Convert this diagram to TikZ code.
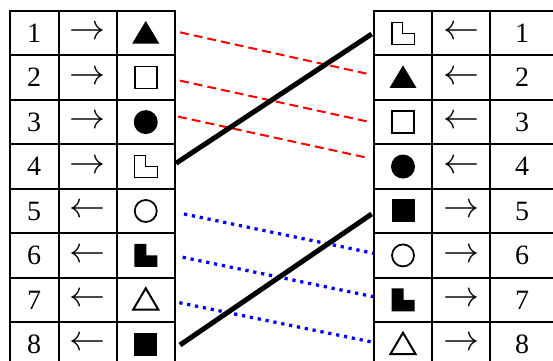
\documentclass[tikz,border=0pt]{standalone}
\usepackage{fontspec}
\setmainfont{Liberation Serif}
\usetikzlibrary{positioning}

\tikzset{
  filledtri/.pic={\fill (-13.5,10.3) -- (13.5,10.3) -- (0,-12.3) -- cycle;},
  hollowtri/.pic={\draw[line width=0.8pt] (-12.6,9.8) -- (12.6,9.8) -- (0,-11.6) -- cycle;},
  filledsq/.pic={\fill (-11.5,-11.5) rectangle (11.5,11.5);},
  hollowsq/.pic={\draw[line width=0.6pt] (-11,-11) rectangle (11,11);},
  filleddot/.pic={\fill (0,0) circle (12);},
  hollowdot/.pic={\draw[line width=0.7pt] (0,0) circle (11);},
  filledL/.pic={\fill (-11.5,-11.5) -- (0.5,-11.5) -- (0.5,0) -- (11.5,0) -- (11.5,11.5) -- (-11.5,11.5) -- cycle;},
  hollowL/.pic={\draw[line width=0.5pt] (-11,-11) -- (-0.5,-11) -- (-0.5,0) -- (11.5,0) -- (11.5,11) -- (-11,11) -- cycle;}
}

\begin{document}
\begin{tikzpicture}[
  x=0.4pt, y=-0.4pt,
  every node/.style={font=\fontsize{11.2}{13}\selectfont},
  cell/.style={rectangle, draw, line width=0.8pt, outer sep=0pt, inner sep=0pt, minimum height=17.78pt},
  arrowcell/.style={cell, font=\fontsize{13.5}{15}\selectfont},
  reddash/.style={red, line width=0.8pt, dash pattern=on 3.6pt off 2pt},
  bluedot/.style={blue, line width=1.3pt, dash pattern=on 1.3pt off 1.9pt},
  thickline/.style={line width=2pt}]
\useasboundingbox (0,0) rectangle (553,360);
\clip (0,0) rectangle (553,360);
% the two tables
\foreach \i/\larr/\rarr in {1/\rightarrow/\leftarrow, 2/\rightarrow/\leftarrow,
    3/\rightarrow/\leftarrow, 4/\rightarrow/\leftarrow, 5/\leftarrow/\rightarrow,
    6/\leftarrow/\rightarrow, 7/\leftarrow/\rightarrow, 8/\leftarrow/\rightarrow}{
  \node[cell, minimum width=19.7pt, anchor=west] (ln\i) at (9.5, {11+44.44*(\i-0.5)}) {\i};
  \node[arrowcell, minimum width=23.3pt, right=0pt of ln\i] (la\i) {$\larr$};
  \node[cell, minimum width=23pt, right=0pt of la\i] (ls\i) {};
  \node[cell, minimum width=23.2pt, anchor=west] (rs\i) at (374, {11+44.44*(\i-0.5)}) {};
  \node[arrowcell, minimum width=23.2pt, right=0pt of rs\i] (ra\i) {$\rarr$};
  \node[cell, minimum width=25.6pt, right=0pt of ra\i] (rn\i) {\i};
}
% symbols
\pic at (ls1) {filledtri};
\pic at (ls2) {hollowsq};
\pic at (ls3) {filleddot};
\pic at (ls4) {hollowL};
\pic at (ls5) {hollowdot};
\pic at (ls6) {filledL};
\pic at (ls7) {hollowtri};
\pic at (ls8) {filledsq};
\pic at (rs1) {hollowL};
\pic at (rs2) {filledtri};
\pic at (rs3) {hollowsq};
\pic at (rs4) {filleddot};
\pic at (rs5) {filledsq};
\pic at (rs6) {hollowdot};
\pic at (rs7) {filledL};
\pic at (rs8) {hollowtri};
% connectors
\draw[reddash] ([shift={(5.5,-0.9)}]ls1.east) -- ([shift={(-6,-3.7)}]rs2.west);
\draw[reddash] ([shift={(5.5,3)}]ls2.east) -- ([shift={(-6,-0.5)}]rs3.west);
\draw[reddash] ([shift={(3.5,-5.5)}]ls3.east) -- ([shift={(-9,-9.3)}]rs4.west);
\draw[thickline] ([shift={(1.5,-3.3)}]ls4.east) -- ([shift={(-2.3,0.8)}]rs1.west);
\draw[bluedot] ([shift={(9.5,3)}]ls5.east) -- ([shift={(-0.7,-2.2)}]rs6.west);
\draw[bluedot] ([shift={(8.2,1.8)}]ls6.east) -- ([shift={(-0.7,-3.2)}]rs7.west);
\draw[bluedot] ([shift={(4.8,2.8)}]ls7.east) -- ([shift={(-0.7,-2)}]rs8.west);
\draw[thickline] ([shift={(5.5,0.7)}]ls8.east) -- ([shift={(-2.3,3)}]rs5.west);
\end{tikzpicture}
\end{document}
